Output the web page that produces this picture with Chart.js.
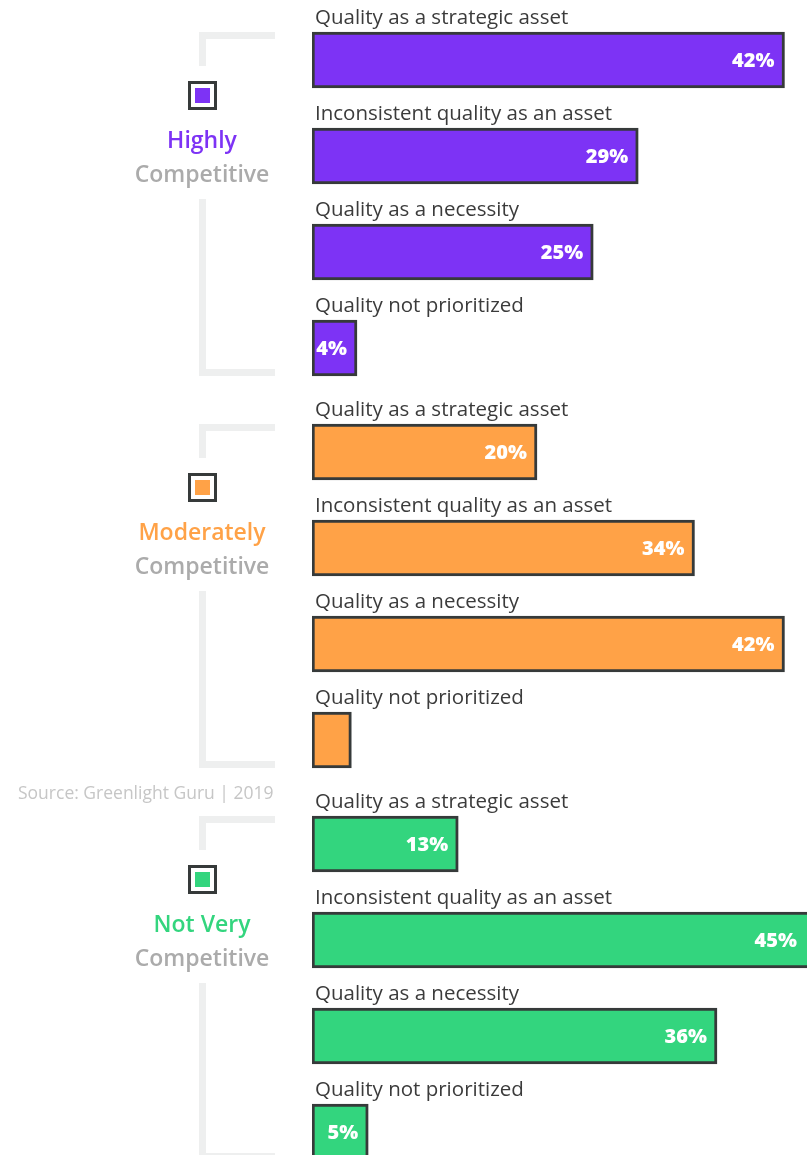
<!DOCTYPE html>
<html>
<head>
<meta charset="utf-8">
<title>Quality culture by competitiveness</title>
<script src="https://cdn.jsdelivr.net/npm/chart.js@4.4.1/dist/chart.umd.min.js"></script>
<style>
  html, body { margin: 0; padding: 0; background: #fff; }
  body { width: 807px; height: 1155px; overflow: hidden; position: relative; }
  canvas { position: absolute; left: 0; }
</style>
</head>
<body>
<canvas id="highly" width="807" height="400" style="top:0px"></canvas>
<canvas id="moderately" width="807" height="400" style="top:392px"></canvas>
<canvas id="notVery" width="807" height="400" style="top:784px"></canvas>
<script>
const categories = [
  'Quality as a strategic asset',
  'Inconsistent quality as an asset',
  'Quality as a necessity',
  'Quality not prioritized'
];

const highlyValues = [42, 29, 25, 4];
const highlyLabels = ['42%', '29%', '25%', '4%'];

const moderatelyValues = [20, 34, 42, 3.5];
const moderatelyLabels = ['20%', '34%', '42%', ''];

const notVeryValues = [13, 45, 36, 5];
const notVeryLabels = ['13%', '45%', '36%', '5%'];

const FONT = '"Open Sans", Lato, sans-serif';
const OUTLINE = '#363a3a';

// brackets, icon and group title on the left, bar captions and values on the right
const groupDecor = {
  id: 'groupDecor',
  afterDatasetsDraw(chart, args, opts) {
    const ctx = chart.ctx;
    const area = chart.chartArea;
    const meta = chart.getDatasetMeta(0);
    const bars = meta.data;
    const half = bars[0].height / 2;
    const top = bars[0].y - half;
    const bottom = bars[bars.length - 1].y + half;

    ctx.save();

    // bracket
    ctx.fillStyle = '#eeefef';
    ctx.fillRect(199, top, 76, 7);
    ctx.fillRect(199, top, 7, 34);
    ctx.fillRect(199, top + 167, 7, bottom - top - 167);
    ctx.fillRect(199, bottom - 7, 76, 7);

    // icon
    ctx.fillStyle = OUTLINE;
    ctx.fillRect(188, top + 49, 29, 29);
    ctx.fillStyle = '#fff';
    ctx.fillRect(191, top + 52, 23, 23);
    ctx.fillStyle = opts.color;
    ctx.fillRect(195, top + 56, 15, 15);

    // title
    ctx.textAlign = 'center';
    ctx.textBaseline = 'alphabetic';
    ctx.font = '600 23px ' + FONT;
    ctx.fillStyle = opts.color;
    ctx.fillText(opts.title, 202, top + 116);
    ctx.fillStyle = '#ababab';
    ctx.fillText('Competitive', 202, top + 150);

    // captions above the bars and values inside them
    bars.forEach((bar, i) => {
      const barTop = bar.y - half;
      ctx.textAlign = 'left';
      ctx.font = '20.5px ' + FONT;
      ctx.fillStyle = '#3b3b3b';
      ctx.fillText(chart.data.labels[i], area.left + 3, barTop - 8);

      const text = opts.valueLabels[i];
      if (text) {
        ctx.textAlign = 'right';
        ctx.textBaseline = 'middle';
        ctx.font = '800 20px ' + FONT;
        ctx.fillStyle = '#fff';
        ctx.fillText(text, Math.min(bar.x, area.right) - 10, bar.y + 1);
        ctx.textBaseline = 'alphabetic';
      }
    });

    if (opts.note) {
      ctx.textAlign = 'left';
      ctx.font = '17.5px ' + FONT;
      ctx.fillStyle = '#c6c6c6';
      ctx.fillText(opts.note, 18, 15);
    }

    ctx.restore();
  }
};

function makeChart(id, values, valueLabels, color, title, note) {
  return new Chart(document.getElementById(id), {
    type: 'bar',
    data: {
      labels: categories,
      datasets: [{
        data: values,
        backgroundColor: color,
        borderColor: OUTLINE,
        borderWidth: 3,
        borderSkipped: false,
        barThickness: 56
      }]
    },
    options: {
      indexAxis: 'y',
      responsive: false,
      animation: false,
      layout: { padding: { left: 312, right: 0, top: 12, bottom: 4 } },
      scales: {
        x: { display: false, min: 0, max: 44 },
        y: { display: false }
      },
      plugins: {
        legend: { display: false },
        tooltip: { enabled: false },
        groupDecor: { color: color, title: title, valueLabels: valueLabels, note: note }
      }
    },
    plugins: [groupDecor]
  });
}

makeChart('highly', highlyValues, highlyLabels, '#7d33f5', 'Highly');
makeChart('moderately', moderatelyValues, moderatelyLabels, '#ffa247', 'Moderately');
makeChart('notVery', notVeryValues, notVeryLabels, '#33d57e', 'Not Very', 'Source: Greenlight Guru | 2019');
</script>
</body>
</html>
